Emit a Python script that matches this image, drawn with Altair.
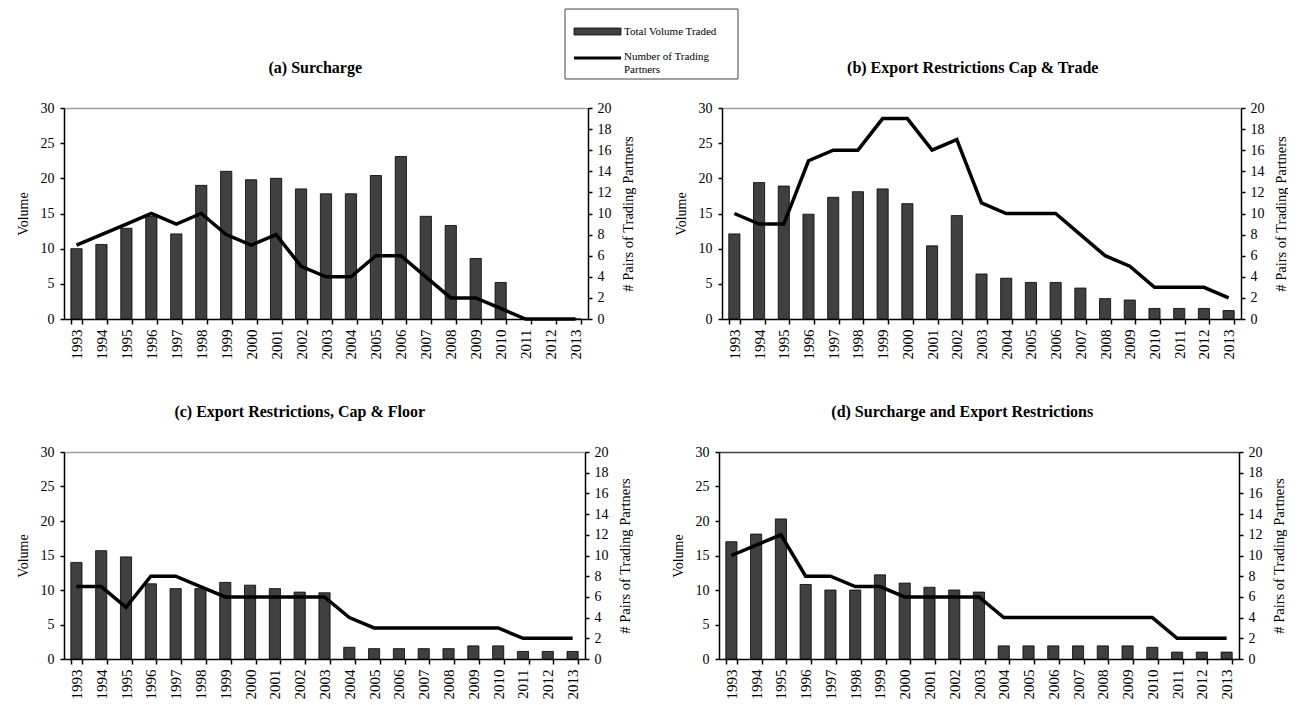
import altair as alt
import pandas as pd

FONT = "Liberation Serif"

years = [str(y) for y in range(1993, 2014)]

# (a) Surcharge
vol_a = [10.0, 10.6, 12.9, 14.6, 12.1, 19.0, 21.0, 19.8, 20.0, 18.5, 17.8, 17.8, 20.4, 23.1, 14.6, 13.3, 8.6, 5.2, 0, 0, 0]
part_a = [7, 8, 9, 10, 9, 10, 8, 7, 8, 5, 4, 4, 6, 6, 4, 2, 2, 1, 0, 0, 0]

# (b) Export Restrictions Cap & Trade
vol_b = [12.1, 19.4, 18.9, 14.9, 17.3, 18.1, 18.5, 16.4, 10.4, 14.7, 6.4, 5.8, 5.2, 5.2, 4.4, 2.9, 2.7, 1.5, 1.5, 1.5, 1.2]
part_b = [10, 9, 9, 15, 16, 16, 19, 19, 16, 17, 11, 10, 10, 10, 8, 6, 5, 3, 3, 3, 2]

# (c) Export Restrictions, Cap & Floor
vol_c = [14.0, 15.7, 14.8, 10.9, 10.2, 10.2, 11.1, 10.7, 10.2, 9.7, 9.6, 1.7, 1.5, 1.5, 1.5, 1.5, 1.9, 1.9, 1.1, 1.1, 1.1]
part_c = [7, 7, 5, 8, 8, 7, 6, 6, 6, 6, 6, 4, 3, 3, 3, 3, 3, 3, 2, 2, 2]

# (d) Surcharge and Export Restrictions
vol_d = [17.0, 18.1, 20.3, 10.8, 10.0, 10.0, 12.2, 11.0, 10.4, 10.0, 9.7, 1.9, 1.9, 1.9, 1.9, 1.9, 1.9, 1.7, 1.0, 1.0, 1.0]
part_d = [10, 11, 12, 8, 8, 7, 7, 6, 6, 6, 6, 4, 4, 4, 4, 4, 4, 4, 2, 2, 2]

titles = ["(a) Surcharge", "(b) Export Restrictions Cap & Trade",
          "(c) Export Restrictions, Cap & Floor", "(d) Surcharge and Export Restrictions"]

legend_labels = ["Total Volume Traded", "Number of Trading", "Partners"]

vol_ticks = [0, 5, 10, 15, 20, 25, 30]
part_ticks = [0, 2, 4, 6, 8, 10, 12, 14, 16, 18, 20]


def panel(title, vol, part, w, h, top_color, dx):
    df = pd.DataFrame({"Year": years, "Volume": vol, "Partners": part})
    xenc = alt.X(
        "Year:O", sort=years,
        scale=alt.Scale(paddingInner=0.55, paddingOuter=0.275),
        axis=alt.Axis(title=None, labelAngle=270, tickBand="extent",
                      labelFont=FONT, labelFontSize=15, labelColor="black",
                      labelPadding=5, tickSize=5, tickColor="black", tickWidth=1.5,
                      domainColor="black", domainWidth=1.5),
    )
    bars = alt.Chart(df).mark_bar(fill="#404040", stroke="black", strokeWidth=0.8).encode(
        x=xenc,
        y=alt.Y("Volume:Q", scale=alt.Scale(domain=[0, 30], nice=False),
                axis=alt.Axis(title="Volume", orient="left", values=vol_ticks,
                              grid=True, gridColor=top_color, gridWidth=1.5,
                              gridOpacity={"condition": {"test": "datum.value === 30", "value": 1}, "value": 0},
                              labelFont=FONT, labelFontSize=14, labelColor="black", labelPadding=6,
                              tickSize=4, tickColor="black", tickWidth=1.5,
                              domainColor="black", domainWidth=1.5,
                              titleFont=FONT, titleFontSize=14, titleFontWeight="normal",
                              titleColor="black", titlePadding=10)),
    )
    line = alt.Chart(df).mark_line(color="black", strokeWidth=3.5).encode(
        x=xenc,
        y=alt.Y("Partners:Q", scale=alt.Scale(domain=[0, 20], nice=False),
                axis=alt.Axis(title="# Pairs of Trading Partners", orient="right", values=part_ticks,
                              grid=False,
                              labelFont=FONT, labelFontSize=14, labelColor="black", labelPadding=5,
                              tickSize=4, tickColor="black", tickWidth=1.5,
                              domainColor="black", domainWidth=1.5,
                              titleFont=FONT, titleFontSize=14.5, titleFontWeight="normal",
                              titleColor="black", titlePadding=10, titleAngle=270,
                              titleBaseline="top")),
    )
    return alt.layer(bars, line).resolve_scale(y="independent").properties(
        width=w, height=h,
        title=alt.TitleParams(title, font=FONT, fontSize=16, fontWeight="bold", color="black",
                              anchor="middle", frame="bounds", offset=25, dx=dx),
    )


pa = panel(titles[0], vol_a, part_a, 524, 211, "#a0a0a0", -10)
pb = panel(titles[1], vol_b, part_b, 519, 211, "#a0a0a0", -8)
pc = panel(titles[2], vol_c, part_c, 521, 207, "#a0a0a0", -24)
pd_ = panel(titles[3], vol_d, part_d, 520, 207, "#404040", -16)

# legend box (drawn in a strip aligned with the first panel, box placed near the middle)
BX = 501
leg_df = pd.DataFrame({"k": [0]})
lb = alt.Chart(leg_df)
box = lb.mark_rect(fill="white", stroke="#444444", strokeWidth=1).encode(
    x=alt.value(BX), x2=alt.value(BX + 173), y=alt.value(0), y2=alt.value(70))
swatch = lb.mark_rect(fill="#404040", stroke="black", strokeWidth=0.8).encode(
    x=alt.value(BX + 9), x2=alt.value(BX + 56), y=alt.value(19), y2=alt.value(26))
t1 = lb.mark_text(align="left", baseline="middle", font=FONT, fontSize=11, color="black",
                  text=legend_labels[0]).encode(x=alt.value(BX + 59), y=alt.value(22.5))
ln = lb.mark_rule(color="black", strokeWidth=3).encode(
    x=alt.value(BX + 9), x2=alt.value(BX + 56), y=alt.value(49))
t2 = lb.mark_text(align="left", baseline="middle", font=FONT, fontSize=11, color="black",
                  text=legend_labels[1]).encode(x=alt.value(BX + 59), y=alt.value(48))
t3 = lb.mark_text(align="left", baseline="middle", font=FONT, fontSize=11, color="black",
                  text=legend_labels[2]).encode(x=alt.value(BX + 59), y=alt.value(61))
legend = alt.layer(box, swatch, t1, ln, t2, t3).properties(
    width=BX + 174, height=70,
    view=alt.ViewBackground(strokeWidth=0, strokeOpacity=0))

row1 = alt.hconcat(pa, pb, spacing=39)
row2 = alt.hconcat(pc, pd_, spacing=39)
top = alt.vconcat(legend, row1, spacing=-20)

chart = alt.vconcat(top, row2, spacing=45).properties(
    padding={"left": 8, "top": 0, "right": 0, "bottom": 0},
    background="white",
).configure_view(strokeWidth=0, strokeOpacity=0)

chart.save("out.html", embed_options={"renderer": "svg", "actions": False})
